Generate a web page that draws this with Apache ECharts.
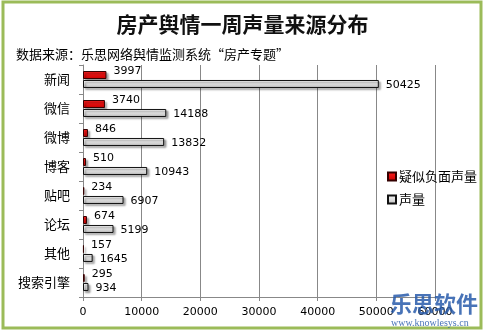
<!DOCTYPE html>
<html><head><meta charset="utf-8">
<script src="https://cdn.jsdelivr.net/npm/echarts@6/dist/echarts.min.js"></script>
<style>html,body{margin:0;padding:0;background:#fff}#c{width:485px;height:333px}</style>
</head><body><div id="c"></div>
<script>
const categories = ['新闻','微信','微博','博客','贴吧','论坛','其他','搜索引擎'];
const negativeValues = [3997,3740,846,510,234,674,157,295];
const volumeValues = [50425,14188,13832,10943,6907,5199,1645,934];
const seriesNames = ['疑似负面声量','声量'];
const xTicks = [0,10000,20000,30000,40000,50000,60000];

const chart = echarts.init(document.getElementById('c'), null, {renderer:'canvas'});
const numFont = 'DejaVu Sans';
const cjk = '"Noto Sans CJK SC"';
chart.setOption({
  animation:false,
  backgroundColor:'#fff',
  title:[{
    text:'房产舆情一周声量来源分布',
    left:'center', top:9,
    textStyle:{fontFamily:cjk,fontSize:21,fontWeight:'bold',color:'#111'}
  },{
    text:'数据来源：乐思网络舆情监测系统“房产专题”',
    left:11, top:43,
    textStyle:{fontFamily:cjk,fontSize:13,fontWeight:'normal',color:'#000'}
  }],
  legend:{
    orient:'vertical', left:382, top:165,
    itemWidth:8, itemHeight:8, itemGap:10,
    icon:'rect',
    textStyle:{fontFamily:cjk,fontSize:13,color:'#000',padding:[0,0,0,-2]},
    data:seriesNames
  },
  grid:{left:83,right:50,top:65,bottom:36,containLabel:false},
  xAxis:{
    type:'value', min:xTicks[0], max:xTicks[xTicks.length-1], interval:10000,
    axisLine:{show:true,lineStyle:{color:'#888'}},
    axisTick:{show:true,length:4,lineStyle:{color:'#888'}},
    splitLine:{show:true,lineStyle:{color:'#888',width:1}},
    axisLabel:{fontFamily:numFont,fontSize:11,color:'#000',margin:10,formatter:function(v){return String(v);}}
  },
  yAxis:{
    type:'category', data:categories, inverse:true,
    axisLine:{show:true,lineStyle:{color:'#888'}},
    axisTick:{show:true,length:4,lineStyle:{color:'#888'}},
    axisLabel:{fontFamily:cjk,fontSize:13,color:'#000',margin:13}
  },
  series:[{
    name:seriesNames[0], type:'bar', data:negativeValues,
    barWidth:8, barGap:'12%',
    itemStyle:{
      color:new echarts.graphic.LinearGradient(0,0,0,1,[{offset:0,color:'#ff2020'},{offset:1,color:'#c80000'}]),
      borderColor:'#300',borderWidth:1,
      shadowColor:'rgba(0,0,0,0.35)',shadowBlur:2,shadowOffsetX:2,shadowOffsetY:2
    },
    label:{show:true,position:'right',distance:7,offset:[0,-4],fontFamily:numFont,fontSize:11,color:'#000'}
  },{
    name:seriesNames[1], type:'bar', data:volumeValues,
    barWidth:8,
    itemStyle:{
      color:new echarts.graphic.LinearGradient(0,0,0,1,[{offset:0,color:'#f4f4f4'},{offset:0.5,color:'#e0e0e0'},{offset:1,color:'#b8b8b8'}]),
      borderColor:'#111',borderWidth:1,
      shadowColor:'rgba(0,0,0,0.35)',shadowBlur:2,shadowOffsetX:2,shadowOffsetY:2
    },
    label:{show:true,position:'right',distance:7,offset:[0,1],fontFamily:numFont,fontSize:11,color:'#000'}
  }],
  graphic:[{
    type:'rect', z:100, silent:true,
    shape:{x:3,y:2,width:478,height:326},
    style:{fill:'none',stroke:'#9bbb59',lineWidth:3}
  },{
    type:'text', z:101, left:390, top:293,
    style:{text:'乐思软件',fontFamily:cjk,fontSize:22,fontWeight:'bold',fill:'rgba(40,90,170,0.85)'}
  },{
    type:'text', z:101, left:391, top:318,
    style:{text:'www.knowlesys.cn',fontFamily:'Liberation Serif',fontSize:10,fill:'rgba(40,90,170,0.85)'}
  }]
});
</script></body></html>
